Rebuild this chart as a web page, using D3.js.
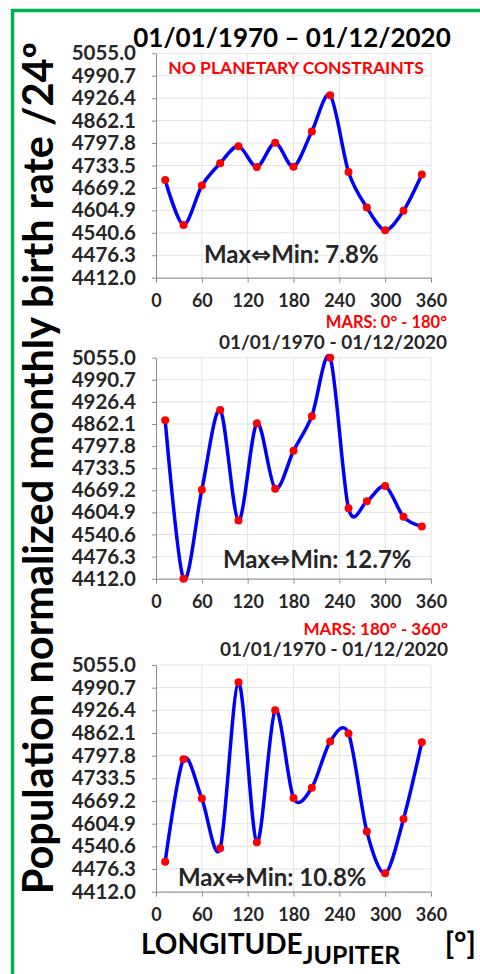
<!DOCTYPE html>
<html><head><meta charset="utf-8">
<script src="https://cdn.jsdelivr.net/npm/d3@7/dist/d3.min.js"></script>
<style>
html,body{margin:0;padding:0;background:#fff;}
svg{display:block;font-family:Lato,"Open Sans",sans-serif;}
</style></head>
<body>
<svg id="chart" width="480" height="974"></svg>
<script>
// ---- data ----
const longitudes = [12, 36, 60, 84, 108, 132, 156, 180, 204, 228, 252, 276, 300, 324, 348];
const xTicks = [0, 60, 120, 180, 240, 300, 360];
const yTicks = [4412.0, 4476.3, 4540.6, 4604.9, 4669.2, 4733.5, 4797.8, 4862.1, 4926.4, 4990.7, 5055.0];
const birthsNoConstraint = [4692, 4563, 4676, 4740, 4789, 4729, 4799, 4730, 4831, 4935, 4715, 4613, 4548, 4604, 4708];
const birthsMars0to180 = [4873, 4412, 4671, 4903, 4581, 4864, 4674, 4784, 4885, 5055, 4617, 4637, 4682, 4592, 4564];
const birthsMars180to360 = [4497, 4788, 4676, 4535, 5006, 4552, 4927, 4678, 4707, 4838, 4861, 4583, 4464, 4618, 4836];
const panelSubtitles = ["NO PLANETARY CONSTRAINTS", "MARS: 0° - 180°", "MARS: 180° - 360°"];
const panelTitles = ["01/01/1970 \u2013 01/12/2020", "01/01/1970 - 01/12/2020", "01/01/1970 - 01/12/2020"];
const maxMinValues = ["7.8%", "12.7%", "10.8%"];
const yAxisTitle = "Population normalized monthly birth rate /24º";

// ---- layout ----
const svg = d3.select("#chart");
const left = 156, right = 431;
const panels = [
  {top: 53.3, bottom: 277.7, series: birthsNoConstraint, mm: {x: 204, y: 255}},
  {top: 357.7, bottom: 578.7, series: birthsMars0to180, mm: {x: 223, y: 560}},
  {top: 665, bottom: 891.7, series: birthsMars180to360, mm: {x: 178, y: 878}}
];

// green frame
svg.append("line").attr("x1", 12.5).attr("x2", 480).attr("y1", 10.5).attr("y2", 10.5)
  .attr("stroke", "#00b050").attr("stroke-width", 3.5);
svg.append("line").attr("x1", 12.5).attr("x2", 12.5).attr("y1", 9).attr("y2", 974)
  .attr("stroke", "#00b050").attr("stroke-width", 3.5);

panels.forEach((p, i) => {
  const x = d3.scaleLinear().domain([0, 360]).range([left, right]);
  const y = d3.scaleLinear().domain([4412, 5055]).range([p.bottom, p.top]);
  const g = svg.append("g");

  // gridlines
  g.append("g").selectAll("line.h").data(yTicks).join("line")
    .attr("x1", left).attr("x2", right).attr("y1", d => y(d)).attr("y2", d => y(d))
    .attr("stroke", "#e3e3e3").attr("stroke-width", 1);
  g.append("g").selectAll("line.v").data(xTicks.slice(1)).join("line")
    .attr("x1", d => x(d)).attr("x2", d => x(d)).attr("y1", p.top).attr("y2", p.bottom)
    .attr("stroke", "#e3e3e3").attr("stroke-width", 1);

  // axes
  const xAxis = g.append("g").attr("transform", `translate(0,${p.bottom})`)
    .call(d3.axisBottom(x).tickValues(xTicks).tickSize(5).tickPadding(12).tickSizeOuter(0));
  xAxis.select(".domain").attr("stroke", "#8c8c8c");
  xAxis.selectAll(".tick line").attr("stroke", "#8c8c8c");
  xAxis.selectAll(".tick text").attr("font-size", 18).attr("font-weight", 700)
    .attr("fill", "#262626").attr("font-family", "Lato, sans-serif");

  const yAxis = g.append("g").attr("transform", `translate(${left},0)`)
    .call(d3.axisLeft(y).tickValues(yTicks).tickSize(4).tickPadding(16).tickSizeOuter(0)
      .tickFormat(d3.format(".1f")));
  yAxis.select(".domain").attr("stroke", "#8c8c8c");
  yAxis.selectAll(".tick line").attr("stroke", "#8c8c8c");
  yAxis.selectAll(".tick text").attr("font-size", 20.5).attr("font-weight", 700)
    .attr("fill", "#262626").attr("font-family", "Lato, sans-serif");

  // line
  const line = d3.line().x((d, k) => x(longitudes[k])).y(d => y(d))
    .curve(d3.curveCardinal.tension(0.1));
  g.append("path").datum(p.series).attr("d", line)
    .attr("fill", "none").attr("stroke", "#0000ff").attr("stroke-width", 3.5);
  g.selectAll("circle").data(p.series).join("circle")
    .attr("cx", (d, k) => x(longitudes[k])).attr("cy", d => y(d)).attr("r", 4)
    .attr("fill", "#ff0000");

  // max-min label
  const mm = g.append("text").attr("x", p.mm.x).attr("y", p.mm.y).attr("dy", "0.35em")
    .attr("font-size", 24).attr("font-weight", 700).attr("fill", "#262626");
  mm.append("tspan").text("Max");
  mm.append("tspan").attr("font-family", "DejaVu Sans").attr("font-size", 24).text("\u21D4");
  mm.append("tspan").text("Min: " + maxMinValues[i]);
});

// titles
svg.append("text").attr("x", 292).attr("y", 38).attr("dy", "0.35em").attr("text-anchor", "middle")
  .attr("font-size", 26).attr("font-weight", 700).attr("fill", "#000").text(panelTitles[0]);
svg.append("text").attr("x", 296).attr("y", 68).attr("dy", "0.35em").attr("text-anchor", "middle")
  .attr("font-size", 17.5).attr("font-weight", 700).attr("fill", "#ff0000").text(panelSubtitles[0]);

svg.append("text").attr("x", 447).attr("y", 322.5).attr("dy", "0.35em").attr("text-anchor", "end")
  .attr("font-size", 16.5).attr("font-weight", 700).attr("fill", "#ff0000").text(panelSubtitles[1]);
svg.append("text").attr("x", 447).attr("y", 342).attr("dy", "0.35em").attr("text-anchor", "end")
  .attr("font-size", 19).attr("font-weight", 700).attr("fill", "#262626").text(panelTitles[1]);

svg.append("text").attr("x", 448).attr("y", 629.5).attr("dy", "0.35em").attr("text-anchor", "end")
  .attr("font-size", 17).attr("font-weight", 700).attr("fill", "#ff0000").text(panelSubtitles[2]);
svg.append("text").attr("x", 448).attr("y", 649).attr("dy", "0.35em").attr("text-anchor", "end")
  .attr("font-size", 19).attr("font-weight", 700).attr("fill", "#262626").text(panelTitles[2]);

// y axis title
svg.append("text").attr("transform", "translate(53,468) rotate(-90)")
  .attr("text-anchor", "middle").attr("font-size", 41.5).attr("font-weight", 700).attr("fill", "#000")
  .text(yAxisTitle);

// x axis title
const xt = svg.append("text").attr("x", 141).attr("y", 954).attr("font-weight", 700).attr("fill", "#000");
xt.append("tspan").attr("font-size", 28).text("LONGITUDE");
xt.append("tspan").attr("font-size", 25).attr("dy", 10).text("JUPITER");
svg.append("text").attr("x", 476).attr("y", 954).attr("text-anchor", "end")
  .attr("font-size", 30).attr("font-weight", 700).attr("fill", "#000").text("[°]");
</script>
</body></html>
